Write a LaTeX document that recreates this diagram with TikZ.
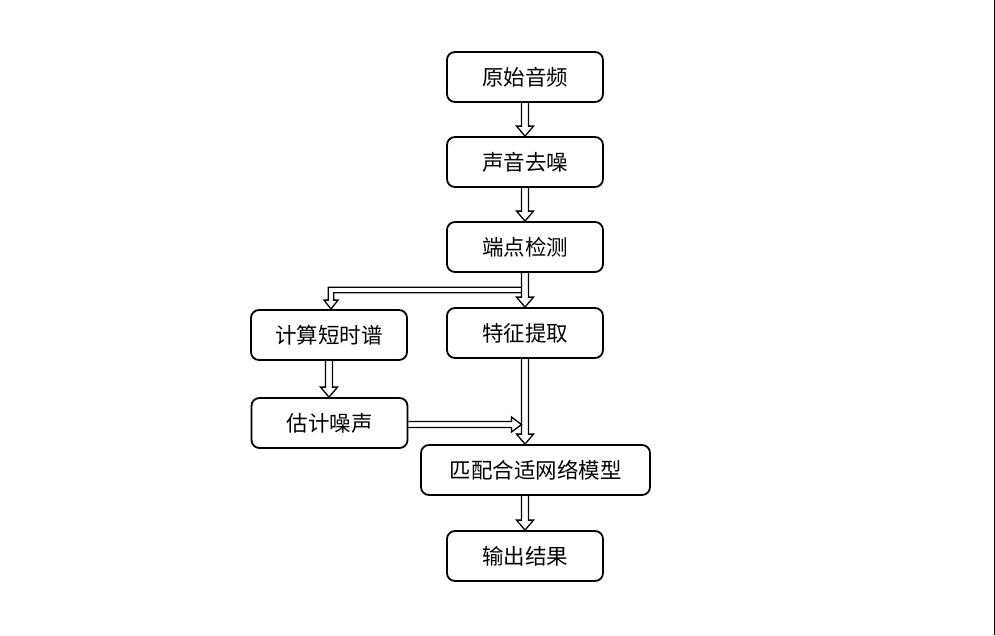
\documentclass[tikz,border=0pt]{standalone}
\usepackage{fontspec}
\newfontfamily\cjk{Noto Sans CJK SC}
\usetikzlibrary{calc}
\tikzset{
  box/.style={draw, line width=1.8pt, rounded corners=8pt, minimum height=50pt,
    minimum width=156pt, inner sep=0pt, font=\cjk\fontsize{21.5}{26}\selectfont},
  arr/.style={draw, line width=1.3pt, line join=miter}
}
\newcommand\varrowx[3]{%
  \draw[arr] let \p1=(#1), \p2=(#2.south), \p3=(#3.north) in
    (\x1-3.5pt,\y2) -- (\x1-3.5pt,\y3+10pt) -- (\x1-8.5pt,\y3+10pt) -- (\x1,\y3)
    -- (\x1+8.5pt,\y3+10pt) -- (\x1+3.5pt,\y3+10pt) -- (\x1+3.5pt,\y2);}
\begin{document}
\begin{tikzpicture}[x=1pt,y=-1pt]
\useasboundingbox (0,0) rectangle (995,635);
\node[box] (ys) at (525,77) {原始音频};
\node[box] (sy) at (525,162) {声音去噪};
\node[box] (dd) at (525,247) {端点检测};
\node[box] (tz) at (525,333) {特征提取};
\node[box] (js) at (329,335) {计算短时谱};
\node[box] (gj) at (329.5,423) {估计噪声};
\node[box, minimum width=229pt] (pp) at (535.5,470) {匹配合适网络模型};
\node[box] (sc) at (525,556) {输出结果};
\coordinate (mid) at ($(dd.south)!0.5!(tz.north)$);
\varrowx{ys.south}{ys}{sy}
\varrowx{sy.south}{sy}{dd}
\varrowx{dd.south}{dd}{tz}
\varrowx{tz.south}{tz}{pp}
\varrowx{js.south}{js}{gj}
\varrowx{sc.north}{pp}{sc}
% L-shaped branch to 计算短时谱
\draw[arr] let \p1=(dd.south), \p3=(js.north), \p4=(mid) in
  (\x1-3.5pt,\y4+2.75pt) -- (\x3+2pt-2.75pt,\y4+2.75pt) -- (\x3+2pt-2.75pt,\y3+9pt)
  -- (\x3+2pt-7pt,\y3+9pt) -- (\x3+2pt,\y3) -- (\x3+2pt+7pt,\y3+9pt)
  -- (\x3+2pt+2.75pt,\y3+9pt) -- (\x3+2pt+2.75pt,\y4-2.75pt) -- (\x1-3.5pt,\y4-2.75pt);
% horizontal arrow from 估计噪声
\draw[arr] let \p1=(gj.east), \p2=(tz.south) in
  (\x1,\y1-1.5pt+3pt) -- (\x2-3.5pt-10pt,\y1-1.5pt+3pt) -- (\x2-3.5pt-10pt,\y1-1.5pt+7.5pt)
  -- (\x2-3.5pt,\y1-1.5pt) -- (\x2-3.5pt-10pt,\y1-1.5pt-7.5pt)
  -- (\x2-3.5pt-10pt,\y1-1.5pt-3pt) -- (\x1,\y1-1.5pt-3pt);
\draw[line width=1pt] (994.5,0) -- (994.5,635);
\end{tikzpicture}
\end{document}
